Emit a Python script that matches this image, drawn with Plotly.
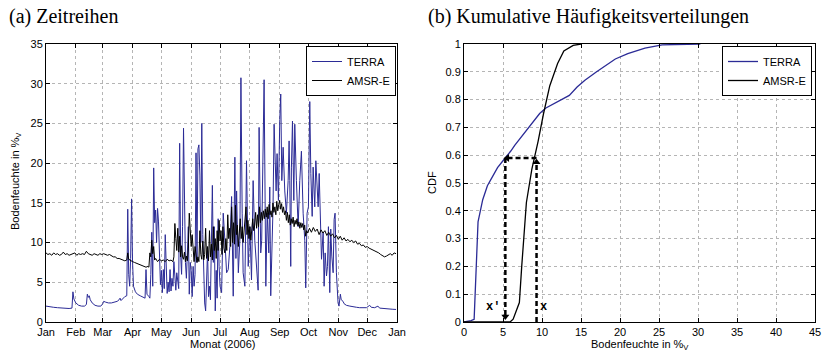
import plotly.graph_objects as go

# ---------------- data ----------------
month_days = [0, 31, 59, 90, 120, 151, 181, 212, 243, 273, 304, 334, 365]
month_labels = ["Jan", "Feb", "Mar", "Apr", "May", "Jun", "Jul", "Aug", "Sep", "Oct", "Nov", "Dec", "Jan"]

terra_days = [
    0, 4, 8, 12, 16, 20, 24, 27, 28, 29, 31, 34, 37, 40, 42, 43, 44, 45, 46, 48, 51, 54, 57, 59, 60, 62, 65, 68,
    71, 74, 76, 77, 78, 80, 82, 84, 85, 86, 87, 88, 89, 90, 91, 93, 95, 98, 101, 103, 104, 105, 107, 108, 109,
    110, 111, 112, 113, 114, 115, 116, 117, 118, 119, 120, 121, 122, 123, 124, 125, 126, 127, 128, 129, 130,
    131, 132, 133, 134, 135, 136, 137, 138, 139, 140, 141, 142, 143, 144, 145, 146, 147, 148, 149, 150, 151,
    152, 153, 154, 155, 156, 157, 158, 159, 160, 161, 162, 163, 164, 165, 166, 167, 168, 169, 170, 171, 172,
    173, 174, 175, 176, 177, 178, 179, 180,
    181, 182.6, 184.3, 186, 187.8, 189.5, 191.2, 193, 194.7, 196.4, 197.5, 198.2, 200, 201.6, 202.7, 204, 205,
    206.8, 208.5, 210.3, 212, 213.7, 215.4, 217.1, 218.8, 220.6, 221.6, 223.3, 224.3, 225.7, 226.8, 228.6, 230,
    231.7, 232.7, 233.7, 235.1, 236.1, 237.2, 238.2, 239.3, 240.3, 241.7, 243.1, 244.1, 245.2, 246.6, 248.3,
    250, 251.8, 252.8, 253.5, 254.5, 255.2, 256.3, 257.7, 258.7, 260.4, 262.2, 263.9, 265.6, 267.4, 269.1,
    270.1, 271.5, 272.9, 274.3, 275.4, 276.8, 277.8, 279.5, 280.6, 282, 283, 284.1, 285.4, 286.5, 288.2, 289.2,
    290.3, 291.7, 292.7, 293.7, 295.1, 296.1, 297.2, 298.6, 299.6, 300.6, 302, 302.7, 303.7, 304.7, 306.1,
    307, 308.9, 310, 312.4, 316, 319.3, 323, 326.2, 330, 333.2, 336.6, 338.3, 341.8, 345.2, 346.9, 350, 353.8,
    357, 360.7, 364,
]
terra_vals = [
    2.0, 1.9, 1.85, 1.8, 1.75, 1.7, 1.7, 1.75, 3.8, 2.9, 2.4, 2.1, 2.0, 2.0, 2.2, 3.5, 3.1, 3.3, 2.8, 2.4, 2.1,
    2.0, 2.0, 2.3, 2.6, 2.5, 2.4, 2.4, 2.5, 2.6, 2.8, 3.0, 2.7, 3.0, 3.2, 3.3, 14.2, 6.0, 4.5, 8.0, 15.5, 7.5,
    4.5, 3.8, 3.5, 3.3, 3.1, 3.0, 6.6, 3.5, 3.2, 3.0, 6.0, 11.3, 4.5, 19.4, 12.5, 14.1, 10.0, 14.3, 12.6, 9.0,
    4.7, 6.5, 3.7, 6.6, 4.2, 11.0, 6.0, 3.6, 5.0, 3.8, 6.6, 3.9, 5.5, 4.5, 7.6, 5.2, 4.0, 6.2, 5.0, 4.2, 22.5,
    8.5, 6.0, 12.0, 24.4, 12.0, 7.5, 5.5, 8.0, 12.0, 3.5, 7.5, 6.5, 3.2, 7.0, 4.5, 6.0, 21.3, 7.5, 21.8, 22.3,
    18.5, 10.0, 25.0, 11.0, 5.3, 2.4, 1.4, 6.6, 9.0, 3.2, 4.5, 2.8, 8.0, 17.2, 7.5, 12.0, 1.4, 6.5, 3.0, 13.0,
    7.0,
    4.5, 3.7, 13.7, 10.3, 6.2, 6.6, 9.5, 15.8, 3.25, 20.75, 8.0, 16.5, 6.2, 10.3, 30.75, 13.7, 6.2, 4.5, 20.3,
    7.0, 12.0, 5.3, 17.8, 10.3, 7.0, 4.0, 24.5, 8.7, 10.3, 19.5, 30.5, 4.5, 13.7, 8.7, 17.0, 3.3, 10.3, 14.5,
    24.9, 19.5, 16.5, 21.2, 15.3, 25.5, 28.7, 17.8, 22.0, 16.5, 13.7, 17.8, 22.8, 17.8, 7.0, 19.5, 25.3, 15.3,
    24.9, 17.8, 12.0, 17.8, 21.5, 13.7, 10.3, 4.3, 13.7, 14.5, 27.75, 18.7, 13.3, 19.5, 14.5, 20.3, 16.5, 14.5,
    18.7, 12.0, 7.9, 11.3, 4.5, 8.7, 5.8, 7.0, 12.0, 3.7, 11.7, 8.3, 6.2, 12.9, 13.7, 6.2, 3.7, 2.4, 2.0, 3.5,
    2.8, 2.6, 2.3, 2.1, 2.0, 1.9, 1.85, 1.8, 1.8, 1.8, 2.1, 1.85, 1.8, 2.0, 1.75, 1.7, 1.67, 1.65, 1.6, 1.58,
]

amsr_days = [
    0, 2, 4, 6, 8, 10, 12, 14, 16, 18, 20, 22, 24, 26, 28, 30, 32, 34, 36, 38, 40, 42, 44, 46, 48, 50, 52, 54,
    56, 58, 60, 62, 64, 66, 68, 70, 72, 74, 76, 78, 80, 82, 84, 85, 86, 88, 90, 92, 94, 96, 98, 100, 102, 104,
    106, 107, 108, 109, 110, 111, 112, 113, 114, 116, 118, 120, 122, 124, 126, 128, 130, 132, 133, 134, 135,
    136, 137, 138, 139, 140, 141, 142, 143, 144, 145, 146, 147, 148, 149, 150, 151, 152, 153, 154, 155, 156,
    157, 158, 159, 160, 161, 162, 163, 164, 165, 166, 167, 168, 169, 170, 171, 172, 173, 174, 175, 176, 177,
    178, 179, 180, 181, 182, 183, 184, 185, 186, 187, 188, 189, 190, 191, 192, 193, 194, 195, 196, 197, 198,
    199, 200, 201, 202, 203, 204, 205, 206, 207, 208, 209, 210, 211, 212, 213, 214, 215, 216, 217, 218, 219,
    220, 221, 222, 223, 224, 225, 226, 227, 228, 229, 230, 231, 232, 233, 234, 235, 236, 237, 238, 239, 240,
    241, 242, 243, 244, 245, 246, 247, 248, 249, 250, 251, 252, 253, 254, 255, 256, 257, 258, 259, 260, 261,
    262, 263, 264, 265, 266, 267, 268, 269, 270, 271, 272, 274, 276, 278, 280, 282, 284, 286, 288, 290, 292,
    294, 296, 298, 300, 302, 304, 306, 308, 310, 312, 314, 316, 318, 320, 322, 324, 326, 328, 330, 332, 334,
    336, 338, 340, 342, 344, 346, 348, 350, 352, 354, 356, 358, 360, 362, 364,
]
amsr_vals = [
    8.7, 8.5, 8.6, 8.4, 8.7, 8.5, 8.6, 8.4, 8.5, 8.8, 8.5, 8.6, 8.4, 8.5, 8.5, 8.7, 8.4, 8.6, 8.5, 8.6, 8.5,
    8.9, 8.6, 8.5, 8.4, 8.6, 8.5, 8.4, 8.6, 8.5, 8.6, 8.5, 8.4, 8.5, 8.3, 8.2, 8.2, 8.0, 8.0, 7.9, 7.8, 7.7,
    7.8, 8.7, 7.9, 7.7, 7.6, 7.5, 7.4, 7.3, 7.3, 7.1, 7.0, 6.9, 7.0, 6.9, 8.7, 8.2, 10.3, 8.6, 9.5, 7.8, 8.0,
    7.6, 7.9, 7.7, 7.8, 7.6, 7.9, 7.7, 7.8, 7.6, 8.2, 12.4, 10.5, 9.0, 11.8, 8.8, 10.8, 8.2, 9.6, 8.2, 7.9,
    8.8, 7.6, 8.3, 7.7, 9.2, 13.7, 11.5, 9.5, 11.0, 8.4, 7.6, 9.5, 8.0, 7.5, 8.2, 7.6, 11.5, 8.5, 7.9, 10.2,
    7.8, 8.5, 11.8, 8.0, 9.5, 7.7, 11.5, 8.2, 9.8, 7.8, 12.0, 9.0, 10.5, 8.0, 11.5, 9.0, 12.8, 10.2, 11.5,
    8.5, 12.0, 9.3, 8.7, 10.5, 9.0, 13.5, 10.5, 11.8, 9.5, 14.5, 10.0, 12.5, 9.8, 14.7, 11.0, 12.2, 9.5, 11.5,
    13.0, 10.5, 12.0, 10.0, 11.2, 12.5, 14.5, 11.0, 12.8, 10.5, 12.0, 10.3, 11.5, 13.0, 11.5, 12.2, 13.8, 11.8,
    13.5, 12.0, 14.5, 12.5, 13.8, 12.8, 14.0, 13.0, 14.2, 13.2, 14.5, 13.0, 14.8, 13.5, 14.0, 13.2, 15.0, 13.8,
    14.5, 13.5, 15.2, 14.0, 14.8, 15.3, 14.2, 14.9, 13.8, 14.5, 13.5, 14.0, 12.8, 13.8, 12.5, 13.5, 12.2, 13.0,
    12.4, 13.2, 12.0, 12.8, 12.3, 13.0, 12.1, 12.6, 11.8, 12.5, 11.9, 12.4, 11.6, 12.2, 10.8, 11.5, 11.2, 11.8,
    11.3, 11.9, 11.4, 11.7, 11.0, 11.6, 11.2, 11.5, 10.9, 11.3, 10.8, 11.1, 10.6, 10.9, 10.4, 10.8, 10.3, 10.6,
    10.2, 10.4, 10.1, 10.3, 10.0, 10.2, 9.8, 9.9, 9.6, 9.7, 9.4, 9.5, 9.3, 9.2, 9.0, 9.0, 8.8, 8.7, 8.5, 8.3,
    8.2, 8.3, 8.4, 8.6, 8.4, 8.7, 8.6,
]

terra_cdf_x = [0, 0.5, 0.9, 1.3, 1.8, 2.4, 3.0, 3.6, 4.3, 5.0, 5.3, 6.0, 6.5, 7.5, 8.5, 9.7, 10.5, 11.5, 12.5,
               13.5, 14.5, 15.5, 17.0, 18.5, 19.4, 21.0, 23.2, 25.4, 30.3]
terra_cdf_y = [0, 0.002, 0.005, 0.01, 0.36, 0.44, 0.49, 0.52, 0.555, 0.58, 0.59, 0.615, 0.635, 0.67, 0.705,
               0.75, 0.77, 0.785, 0.80, 0.815, 0.845, 0.87, 0.90, 0.93, 0.946, 0.965, 0.985, 0.997, 1.0]
amsr_cdf_x = [0, 5.9, 6.3, 7.1, 7.4, 7.7, 8.0, 8.7, 9.5, 10.2, 11.0, 12.0, 12.8, 14.0, 15.0]
amsr_cdf_y = [0, 0, 0.01, 0.07, 0.2, 0.32, 0.43, 0.55, 0.65, 0.75, 0.85, 0.93, 0.975, 0.995, 1.0]

# transfer illustration
x_prime, x_orig, cdf_level = 5.3, 9.3, 0.59

# ---------------- styling ----------------
W, H = 824, 353
BLUE = "#2b2b96"
FONT = "Liberation Sans, Arial, sans-serif"
SERIF = "Liberation Serif, Times New Roman, serif"

def px_x(p):
    return p / W

def px_y(p):
    return 1 - p / H

fig = go.Figure()
fig.add_trace(go.Scatter(x=terra_days, y=terra_vals, mode="lines", name="TERRA",
                         line=dict(color=BLUE, width=1), xaxis="x", yaxis="y", legend="legend"))
fig.add_trace(go.Scatter(x=amsr_days, y=amsr_vals, mode="lines", name="AMSR-E",
                         line=dict(color="black", width=1), xaxis="x", yaxis="y", legend="legend"))
fig.add_trace(go.Scatter(x=terra_cdf_x, y=terra_cdf_y, mode="lines", name="TERRA",
                         line=dict(color=BLUE, width=1.3), xaxis="x2", yaxis="y2", legend="legend2"))
fig.add_trace(go.Scatter(x=amsr_cdf_x, y=amsr_cdf_y, mode="lines", name="AMSR-E",
                         line=dict(color="black", width=1.3), xaxis="x2", yaxis="y2", legend="legend2"))

dash_style = dict(color="black", width=2.5, dash="5px,3px")
fig.add_trace(go.Scatter(x=[x_orig, x_orig], y=[0, cdf_level - 0.02], mode="lines", line=dash_style,
                         showlegend=False, xaxis="x2", yaxis="y2", hoverinfo="skip"))
fig.add_trace(go.Scatter(x=[x_orig, x_prime + 0.4], y=[cdf_level, cdf_level], mode="lines", line=dash_style,
                         showlegend=False, xaxis="x2", yaxis="y2", hoverinfo="skip"))
fig.add_trace(go.Scatter(x=[x_prime, x_prime], y=[cdf_level, 0.02], mode="lines", line=dash_style,
                         showlegend=False, xaxis="x2", yaxis="y2", hoverinfo="skip"))
fig.add_trace(go.Scatter(x=[x_orig, x_prime + 0.25, x_prime],
                         y=[cdf_level - 0.015, cdf_level, 0.02],
                         mode="markers",
                         marker=dict(symbol=["triangle-up", "triangle-left", "triangle-down"], size=7,
                                     color="black"),
                         showlegend=False, xaxis="x2", yaxis="y2", hoverinfo="skip"))

ydom = [px_y(322), px_y(44)]
axis_common = dict(showline=True, linecolor="black", linewidth=1, mirror="ticks", ticks="inside",
                   ticklen=4, tickcolor="black", showgrid=True, gridcolor="#b5b5b5", griddash="dot",
                   gridwidth=1, zeroline=False, automargin=False,
                   tickfont=dict(family=FONT, size=11, color="black"))

fig.update_layout(
    width=W, height=H, margin=dict(l=0, r=0, t=0, b=0, autoexpand=False),
    paper_bgcolor="white", plot_bgcolor="white",
    font=dict(family=FONT, size=11, color="black"),
    xaxis=dict(domain=[px_x(46), px_x(397)], range=[0, 365], tickvals=month_days, ticktext=month_labels,
               anchor="y", **axis_common),
    yaxis=dict(domain=ydom, range=[0, 35], tickvals=list(range(0, 36, 5)), anchor="x", **axis_common),
    xaxis2=dict(domain=[px_x(464), px_x(815)], range=[0, 45], tickvals=list(range(0, 46, 5)),
                anchor="y2", **axis_common),
    yaxis2=dict(domain=ydom, range=[0, 1], tickvals=[i / 10 for i in range(11)],
                ticktext=["0"] + [f"0.{i}" for i in range(1, 10)] + ["1"], anchor="x2", **axis_common),
    legend=dict(x=px_x(396), y=px_y(46), xanchor="right", yanchor="top", bgcolor="white",
                bordercolor="black", borderwidth=1, font=dict(family=FONT, size=11, color="black"),
                tracegroupgap=0, itemwidth=30),
    legend2=dict(x=px_x(812), y=px_y(46), xanchor="right", yanchor="top", bgcolor="white",
                 bordercolor="black", borderwidth=1, font=dict(family=FONT, size=11, color="black"),
                 tracegroupgap=0, itemwidth=30),
    showlegend=True,
)

annotations = [
    dict(text="(a) Zeitreihen", x=px_x(7), y=px_y(16), xanchor="left", yanchor="middle",
         font=dict(family=SERIF, size=20, color="black")),
    dict(text="(b) Kumulative Häufigkeitsverteilungen", x=px_x(426), y=px_y(16), xanchor="left",
         yanchor="middle", font=dict(family=SERIF, size=20, color="black")),
    dict(text="Monat (2006)", x=px_x(222), y=px_y(344), xanchor="center", yanchor="middle"),
    dict(text="Bodenfeuchte in %<sub>V</sub>", x=px_x(640), y=px_y(345), xanchor="center",
         yanchor="middle"),
    dict(text="Bodenfeuchte in %<sub>V</sub>", x=px_x(16), y=px_y(181), textangle=-90,
         xanchor="center", yanchor="middle"),
    dict(text="CDF", x=px_x(432), y=px_y(183), textangle=-90, xanchor="center", yanchor="middle"),
]
for a in annotations:
    a.update(xref="paper", yref="paper", showarrow=False)
    a.setdefault("font", dict(family=FONT, size=11, color="black"))
fig.update_layout(annotations=annotations)

fig.add_annotation(text="<b>x′</b>", x=x_prime - 1.6, y=0.055, xref="x2", yref="y2", showarrow=False,
                   font=dict(family="Liberation Mono, Courier New, monospace", size=12, color="black"))
fig.add_annotation(text="<b>x</b>", x=x_orig + 0.9, y=0.055, xref="x2", yref="y2", showarrow=False,
                   font=dict(family="Liberation Mono, Courier New, monospace", size=12, color="black"))

fig.write_html("out.html")
